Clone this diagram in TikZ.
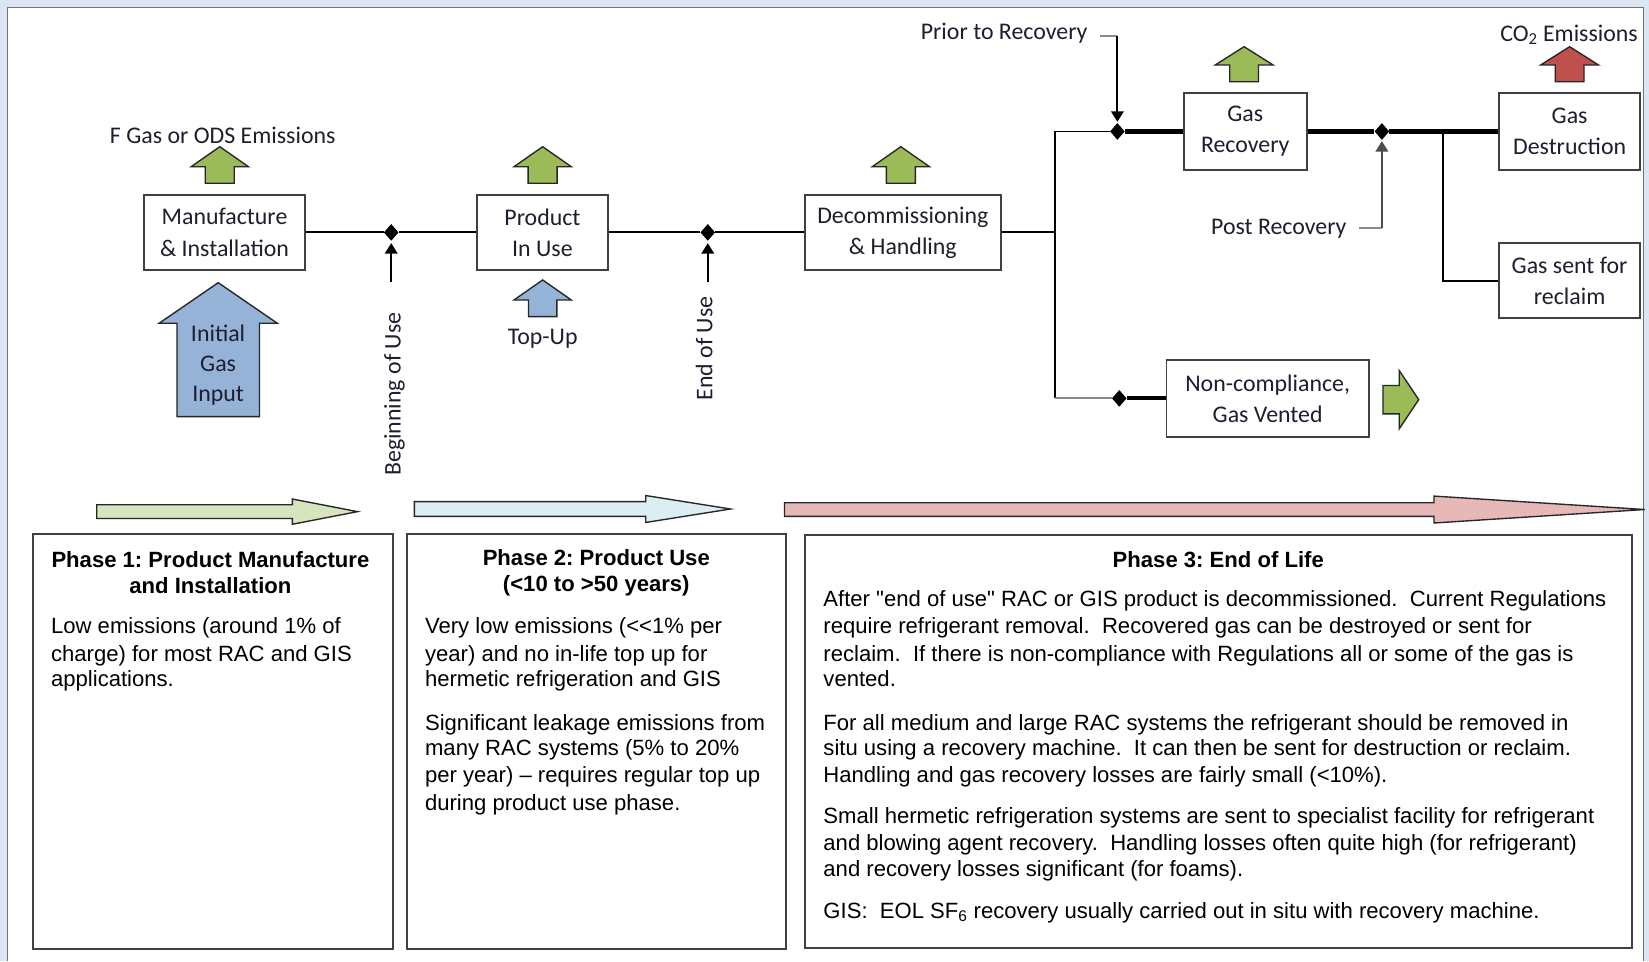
\documentclass[tikz,border=0pt]{standalone}
\usepackage{fontspec}
\setmainfont{Liberation Sans}
\newfontfamily\carlito{Carlito}
\usetikzlibrary{shapes.geometric,arrows.meta}
\frenchspacing
\definecolor{bgblue}{HTML}{DCE6F2}
\definecolor{labtext}{HTML}{1E1E30}
\definecolor{boxline}{HTML}{404040}
\definecolor{grnarrow}{HTML}{9BBB59}
\definecolor{bluearrow}{HTML}{95B3D7}
\definecolor{redarrow}{HTML}{C0504D}
\definecolor{phgreen}{HTML}{D7E4BD}
\definecolor{phblue}{HTML}{DBEEF4}
\definecolor{phpink}{HTML}{E6B9B8}
\newcommand{\myupblock}[7]{%
  \draw[blockline,fill=#7] (#1,#2) -- ({#1+#5},#3) -- ({#1+#6},#3) -- ({#1+#6},#4)
    -- ({#1-#6},#4) -- ({#1-#6},#3) -- ({#1-#5},#3) -- cycle;}
\newcommand{\myrightblock}[7]{%
  \draw[blockline,fill=#7] (#1,{#4-#6}) -- (#2,{#4-#6}) -- (#2,{#4-#5}) -- (#3,#4)
    -- (#2,{#4+#5}) -- (#2,{#4+#6}) -- (#1,{#4+#6}) -- cycle;}
\begin{document}
\begin{tikzpicture}[x=1pt,y=-1pt,
  lbl/.style={font=\carlito\fontsize{22.7}{29.5}\selectfont, text=labtext, align=center, inner sep=0pt},
  flowbox/.style 2 args={lbl, draw=boxline, line width=1.8pt, fill=white, minimum width=#1, minimum height=#2},
  dmd/.style={diamond, fill=black, minimum width=14pt, minimum height=16pt, inner sep=0pt},
  ln/.style={draw=black, line width=1.8pt},
  thickln/.style={draw=black, line width=4pt},
  grayln/.style={draw=black!45, line width=1.8pt},
  tipped/.style={-{Triangle[width=12pt,length=10pt]}},
  blockline/.style={draw=black!85, line width=1.3pt, line join=miter},
  phasebox/.style={draw=boxline, line width=2pt, fill=white, inner sep=0pt, minimum width=#1},
  bodytxt/.style={font=\fontsize{21}{25.3}\selectfont, text=black, inner sep=0pt, anchor=base west},
  titletxt/.style={font=\bfseries\fontsize{21}{24.7}\selectfont, text=black, align=center, inner sep=0pt}
]
% background and frame
\fill[bgblue] (0,0) rectangle (1568,914);
\fill[white] (7,7) rectangle (1563,914);
\draw[black!55, line width=1.2pt] (7,914) -- (7,7) -- (1563,7) -- (1563,914);

% flow boxes
\node[flowbox={153pt}{72pt}] (man) at (213.5,221) {Manufacture\\\& Installation};
\node[flowbox={124.4pt}{72pt}] (prod) at (515.8,221) {Product\\In Use};
\node[flowbox={186pt}{72pt}] (decom) at (858.5,221) {Decommissioning\\\& Handling};
\node[flowbox={116.6pt}{73pt}] (gasrec) at (1184.1,125) {Gas\\Recovery};
\node[flowbox={134pt}{73pt}] (gasdes) at (1492.5,125) {Gas\\Destruction};
\node[flowbox={134pt}{71.3pt}] (reclaim) at (1492.5,267) {Gas sent for\\reclaim};
\node[flowbox={192.4pt}{73pt}] (noncomp) at (1205.4,378.8) {Non-compliance,\\Gas Vented};

% junction markers
\node[dmd] (d1) at (372,221) {};
\node[dmd] (d2) at (673,221) {};
\node[dmd] (d3) at (1062.5,125) {};
\node[dmd] (d4) at (1314,125) {};
\node[dmd] (d5) at (1064.3,378.8) {};
\coordinate (j1) at (1003,221);
\coordinate (j1top) at (1003,125);
\coordinate (j1bot) at (1003,378.8);
\coordinate (j2) at (1372,125);
\coordinate (j2b) at (1372,267);

% connectors
\draw[ln] (man) -- (d1) -- (prod);
\draw[ln] (prod) -- (d2) -- (decom);
\draw[ln] (decom) -- (j1);
\draw[ln] (j1top) -- (j1bot);
\draw[ln] (j1top) -- (d3);
\draw[thickln] (d3) -- (gasrec);
\draw[thickln] (gasrec) -- (d4) -- (gasdes);
\draw[ln] (j2) -- (j2b) -- (reclaim);
\draw[grayln] (j1bot) -- (d5);
\draw[thickln] (d5) -- (noncomp);

% event labels with arrows
\node[lbl, rotate=90] (bou) at (375.2,374.8) {Beginning of Use};
\coordinate (bouS) at (372,268);
\draw[ln, tipped, shorten >=2pt] (bouS) -- (d1);
\node[lbl, rotate=90] (eou) at (669.6,331.3) {End of Use};
\coordinate (eouS) at (673,268);
\draw[ln, tipped, shorten >=2pt] (eouS) -- (d2);
\node[lbl] (prior) at (954.8,31.7) {Prior to Recovery};
\coordinate (priorA) at (1046,34);
\coordinate (priorB) at (1062.5,34);
\draw[grayln] (priorA) -- (priorB);
\draw[ln, tipped, shorten >=1pt] (priorB) -- (d3);
\node[lbl] (post) at (1216,218) {Post Recovery};
\coordinate (postA) at (1292,216.5);
\coordinate (postB) at (1314,216.5);
\draw[grayln] (postA) -- (postB);
\draw[draw=black!70, line width=1.8pt, tipped, shorten >=1pt] (postB) -- (d4);

% emission labels
\node[lbl] (fgas) at (211.8,128.4) {F Gas or ODS Emissions};
\node[lbl] (co2) at (1492,33.3) {CO\textsubscript{2} Emissions};
\node[lbl] (topup) at (516,321.7) {Top-Up};

% block arrows
\myupblock{209}{139.5}{158.5}{174.3}{27.2}{13.8}{grnarrow}
\myupblock{516}{139.5}{158.5}{174.3}{27.2}{13.8}{grnarrow}
\myupblock{856.6}{139.5}{158.5}{174.3}{27.2}{13.8}{grnarrow}
\myupblock{1183}{44.4}{61.8}{77.7}{27.5}{13.7}{grnarrow}
\myupblock{1492.5}{44.4}{61.8}{77.7}{27.5}{13.7}{redarrow}
\myupblock{516}{266.2}{285.3}{301.1}{27.3}{13.5}{bluearrow}
\myupblock{207.5}{268.8}{307.4}{396.2}{56.2}{39.2}{bluearrow}
\node[lbl, font=\carlito\fontsize{22.7}{28.5}\selectfont] (init) at (207.4,347) {Initial\\Gas\\Input};
\myrightblock{1315}{1330.5}{1349}{380}{27.7}{13.5}{grnarrow}

% phase arrows
\myrightblock{92}{278}{340}{486.5}{12}{6.5}{phgreen}
\myrightblock{394}{614}{694.6}{484}{12.8}{7}{phblue}
\myrightblock{746}{1363.5}{1564}{484.5}{12.8}{6.5}{phpink}

% phase boxes
\node[phasebox=341.9pt, minimum height=394.7pt] (p1) at (202.65,705.35) {};
\node[phasebox=360.1pt, minimum height=394.7pt] (p2) at (566.95,705.35) {};
\node[phasebox=786pt, minimum height=393pt] (p3) at (1158.4,705.2) {};

% phase 1 text
\node[titletxt] (p1t) at (200.1,544.9) {Phase 1: Product Manufacture\\and Installation};
\node[bodytxt] (p1a) at (48.4,602.5) {Low emissions (around 1\% of};
\node[bodytxt] (p1b) at (48.4,629.3) {charge) for most RAC and GIS};
\node[bodytxt] (p1c) at (48.4,652.4) {applications.};

% phase 2 text
\node[titletxt] (p2t) at (567,544.9) {Phase 2: Product Use\\(<10 to >50 years)};
\node[bodytxt] (p2a) at (404,602.5) {Very low emissions (<{}<1\% per};
\node[bodytxt] (p2b) at (404,629.3) {year) and no in-life top up for};
\node[bodytxt] (p2c) at (404,652.4) {hermetic refrigeration and GIS};
\node[bodytxt] (p2d) at (404,694.3) {Significant leakage emissions from};
\node[bodytxt] (p2e) at (404,718.1) {many RAC systems (5\% to 20\%};
\node[bodytxt] (p2f) at (404,744.4) {per year) – requires regular top up};
\node[bodytxt] (p2g) at (404,770.5) {during product use phase.};

% phase 3 text
\node[titletxt] (p3t) at (1158.4,532.5) {Phase 3: End of Life};
\node[bodytxt] (p3a) at (782.8,577) {After \textquotedbl end of use\textquotedbl{} RAC or GIS product is decommissioned.\ \ Current Regulations};
\node[bodytxt] (p3b) at (782.8,602.4) {require refrigerant removal.\ \ Recovered gas can be destroyed or sent for};
\node[bodytxt] (p3c) at (782.8,629.3) {reclaim.\ \ If there is non-compliance with Regulations all or some of the gas is};
\node[bodytxt] (p3d) at (782.8,653.1) {vented.};
\node[bodytxt] (p3e) at (782.8,694.3) {For all medium and large RAC systems the refrigerant should be removed in};
\node[bodytxt] (p3f) at (782.8,718.1) {situ using a recovery machine.\ \ It can then be sent for destruction or reclaim.};
\node[bodytxt] (p3g) at (782.8,744.4) {Handling and gas recovery losses are fairly small (<10\%).};
\node[bodytxt] (p3h) at (782.8,783) {Small hermetic refrigeration systems are sent to specialist facility for refrigerant};
\node[bodytxt] (p3i) at (782.8,808.4) {and blowing agent recovery.\ \ Handling losses often quite high (for refrigerant)};
\node[bodytxt] (p3j) at (782.8,833.7) {and recovery losses significant (for foams).};
\node[bodytxt] (p3k) at (782.8,873.3) {GIS:\ \ EOL SF\textsubscript{6} recovery usually carried out in situ with recovery machine.};
\end{tikzpicture}
\end{document}
